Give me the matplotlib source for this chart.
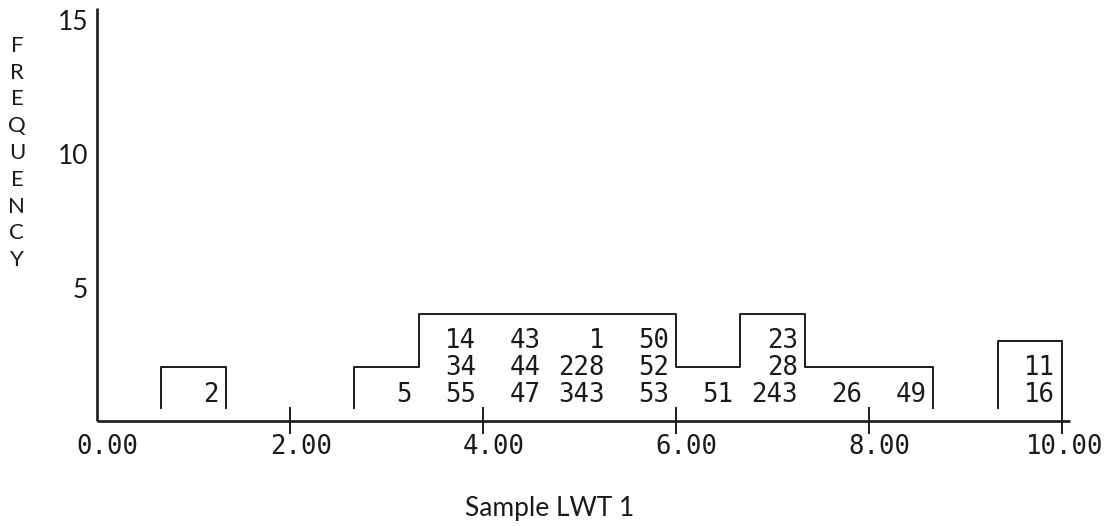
import matplotlib
matplotlib.use("Agg")
import matplotlib.pyplot as plt

# histogram bins (width 2/3) and the sample ids stacked in each bin, bottom to top
bin_width = 2.0 / 3.0
bin_labels = [
    [],
    ["2"],
    [],
    [],
    ["5"],
    ["55", "34", "14"],
    ["47", "44", "43"],
    ["343", "228", "1"],
    ["53", "52", "50"],
    ["51"],
    ["243", "28", "23"],
    ["26"],
    ["49"],
    [],
    ["16", "11"],
]
x_ticks = [0, 2, 4, 6, 8, 10]
x_tick_labels = ["0.00", "2.00", "4.00", "6.00", "8.00", "10.00"]
y_ticks = [5, 10, 15]
y_tick_labels = ["5", "10", "15"]
y_title = "FREQUENCY"
x_title = "Sample LWT 1"

MONO = "DejaVu Sans Mono"
SANS = "Lato"
INK = "#1a1a1a"
mono_size = 18.5

fig = plt.figure(figsize=(11.11, 5.26), dpi=100)
ax = fig.add_axes([97 / 1111, 105 / 526, 965 / 1111, 402 / 526])
ax.set_xlim(0, 10)
ax.set_ylim(0, 15)
ax.axis("off")

# axes lines
ax.plot([0, 10.08], [0, 0], color=INK, lw=1.9, clip_on=False, solid_capstyle="butt")
ax.plot([0, 0], [0, 15.4], color=INK, lw=1.9, clip_on=False, solid_capstyle="butt")

# x ticks crossing the axis
for t in x_ticks[1:]:
    ax.plot([t, t], [-0.45, 0.5], color=INK, lw=1.4, clip_on=False)

# step outline for each run of non-empty bins
counts = [len(b) for b in bin_labels]
i = 0
while i < len(counts):
    if counts[i] == 0:
        i += 1
        continue
    xs, ys = [i * bin_width], [0.5]
    while i < len(counts) and counts[i] > 0:
        h = counts[i] + 1
        xs += [i * bin_width, (i + 1) * bin_width]
        ys += [h, h]
        i += 1
    xs.append(i * bin_width)
    ys.append(0.5)
    ax.plot(xs, ys, color=INK, lw=1.4, clip_on=False)

# sample ids inside the bins
for i, labels in enumerate(bin_labels):
    for row, lab in enumerate(labels):
        ax.text((i + 1) * bin_width - 0.07, row + 1 - 0.29, lab, family=MONO,
                fontsize=mono_size, ha="right", va="baseline", color=INK)

# x tick labels, decimal point sitting on the tick
adv = 0.602 * mono_size
for t, lab in zip(x_ticks, x_tick_labels):
    k = lab.index(".")
    ax.annotate(lab, (t, -1.23), xytext=(2.2 - (k + 0.5) * adv, 0),
                textcoords="offset points", family=MONO, fontsize=mono_size,
                ha="left", va="baseline", color=INK, annotation_clip=False)

# y tick labels
for t, lab in zip(y_ticks, y_tick_labels):
    ax.annotate(lab, (0, t - 0.4), xytext=(-6.5, 0), textcoords="offset points",
                family=SANS, fontsize=19, ha="right", va="baseline", color=INK,
                annotation_clip=False)

# vertical stacked y title
for j, ch in enumerate(y_title):
    ax.text(-0.83, 14 - j, ch, family=SANS, fontsize=16, ha="center",
            va="center", color=INK, clip_on=False)

fig.text(550 / 1111, 1 - 516 / 526, x_title, family=SANS, fontsize=19,
         ha="center", va="baseline", color=INK)

fig.savefig("out.png", dpi=100, facecolor="white")
